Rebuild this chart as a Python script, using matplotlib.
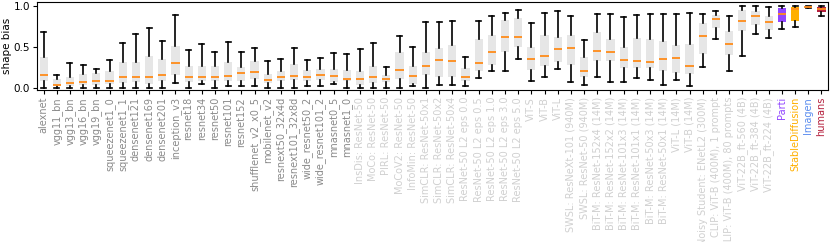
import matplotlib.pyplot as plt
import numpy as np

# model names, left to right
models = ['alexnet', 'vgg11_bn', 'vgg13_bn', 'vgg16_bn', 'vgg19_bn',
          'squeezenet1_0', 'squeezenet1_1', 'densenet121', 'densenet169',
          'densenet201', 'inception_v3', 'resnet18', 'resnet34', 'resnet50',
          'resnet101', 'resnet152', 'shufflenet_v2_x0_5', 'mobilenet_v2',
          'resnext50_32x4d', 'resnext101_32x8d', 'wide_resnet50_2',
          'wide_resnet101_2', 'mnasnet0_5', 'mnasnet1_0',
          'InsDis: ResNet-50', 'MoCo: ResNet-50', 'PIRL: ResNet-50',
          'MoCoV2: ResNet-50', 'InfoMin: ResNet-50', 'SimCLR: ResNet-50x1',
          'SimCLR: ResNet-50x2', 'SimCLR: ResNet-50x4',
          'ResNet-50 L2 eps 0.0', 'ResNet-50 L2 eps 0.5', 'ResNet-50 L2 eps 1.0',
          'ResNet-50 L2 eps 3.0', 'ResNet-50 L2 eps 5.0',
          'ViT-S', 'ViT-B', 'ViT-L',
          'SWSL: ResNeXt-101 (940M)', 'SWSL: ResNet-50 (940M)',
          'BiT-M: ResNet-152x4 (14M)', 'BiT-M: ResNet-152x2 (14M)',
          'BiT-M: ResNet-101x3 (14M)', 'BiT-M: ResNet-101x1 (14M)',
          'BiT-M: ResNet-50x3 (14M)', 'BiT-M: ResNet-50x1 (14M)',
          'ViT-L (14M)', 'ViT-B (14M)', 'Noisy Student: ENetL2 (300M)',
          'CLIP: ViT-B (400M), 1 prompt', 'CLIP: ViT-B (400M), 80 prompts',
          'ViT-22B_ft-560 (4B)', 'ViT-22B_ft-384 (4B)', 'ViT-22B_ft-224 (4B)',
          'Parti', 'StableDiffusion', 'Imagen', 'humans']

# box statistics
whis_lo = [0.0, 0.0, 0.0, 0.0, 0.0, 0.0, 0.0, 0.0, 0.0, 0.0,
           0.051, 0.0, 0.047, 0.0, 0.022, 0.018, 0.02, 0.0, 0.0, 0.0,
           0.022, 0.022, 0.043, 0.0, 0.0, 0.0, 0.0, 0.0, 0.018, 0.0,
           0.03, 0.03, 0.018, 0.112, 0.202, 0.202, 0.345, 0.076, 0.129, 0.23,
           0.071, 0.026, 0.129, 0.063, 0.063, 0.116, 0.096, 0.035, 0.092, 0.022,
           0.247, 0.594, 0.206, 0.386, 0.655, 0.61, 0.72, 0.744, 0.975, 0.875]
q1 = [0.08, 0.018, 0.02, 0.03, 0.035, 0.043, 0.06, 0.067, 0.043, 0.083,
      0.153, 0.067, 0.076, 0.08, 0.083, 0.083, 0.1, 0.05, 0.083, 0.092,
      0.083, 0.092, 0.067, 0.076, 0.03, 0.06, 0.063, 0.1, 0.043, 0.153,
      0.125, 0.133, 0.08, 0.202, 0.275, 0.43, 0.5, 0.214, 0.263, 0.312,
      0.271, 0.125, 0.32, 0.324, 0.243, 0.235, 0.235, 0.198, 0.174, 0.161,
      0.41, 0.724, 0.401, 0.688, 0.769, 0.704, 0.798, 0.81, 0.98, 0.93]
medians = [0.149, 0.034, 0.05, 0.063, 0.083, 0.08, 0.125, 0.133, 0.125, 0.157,
           0.296, 0.133, 0.133, 0.133, 0.141, 0.177, 0.19, 0.096, 0.125, 0.137,
           0.125, 0.153, 0.141, 0.104, 0.108, 0.133, 0.1, 0.214, 0.141, 0.267,
           0.336, 0.324, 0.125, 0.296, 0.435, 0.622, 0.618, 0.349, 0.386, 0.467,
           0.48, 0.206, 0.447, 0.438, 0.332, 0.32, 0.308, 0.353, 0.365, 0.259,
           0.63, 0.842, 0.536, 0.81, 0.875, 0.798, 0.903, 0.961, 0.99, 0.955]
q3 = [0.377, 0.11, 0.13, 0.165, 0.174, 0.198, 0.308, 0.316, 0.39, 0.353,
      0.508, 0.267, 0.263, 0.263, 0.316, 0.247, 0.32, 0.165, 0.206, 0.284,
      0.214, 0.23, 0.222, 0.214, 0.206, 0.263, 0.149, 0.438, 0.263, 0.435,
      0.48, 0.52, 0.239, 0.59, 0.638, 0.826, 0.855, 0.492, 0.646, 0.614,
      0.646, 0.37, 0.68, 0.594, 0.492, 0.61, 0.59, 0.573, 0.516, 0.528,
      0.786, 0.883, 0.69, 0.949, 0.94, 0.875, 0.973, 0.981, 0.995, 0.985]
whis_hi = [0.676, 0.153, 0.30, 0.28, 0.226, 0.336, 0.55, 0.65, 0.73, 0.57,
           0.887, 0.455, 0.536, 0.435, 0.56, 0.43, 0.483, 0.32, 0.353, 0.483,
           0.34, 0.357, 0.426, 0.406, 0.47, 0.54, 0.255, 0.634, 0.5, 0.806,
           0.806, 0.814, 0.377, 0.818, 0.875, 0.916, 0.945, 0.786, 0.908, 0.936,
           0.871, 0.585, 0.9, 0.9, 0.867, 0.887, 0.9, 0.9, 0.9, 0.916,
           0.9, 0.94, 0.879, 1.0, 1.0, 0.981, 1.0, 1.0, 1.0, 1.0]

n_cnn = 24  # first group has darker labels
special_colors = {'Parti': '#9146ff', 'StableDiffusion': '#ffb000',
                  'Imagen': '#5b8def', 'humans': '#b5203d'}

stats = []
for i, name in enumerate(models):
    stats.append({'label': name, 'whislo': whis_lo[i], 'q1': q1[i], 'med': medians[i],
                  'q3': q3[i], 'whishi': whis_hi[i], 'fliers': []})

fig = plt.figure(figsize=(8.3, 2.42), dpi=100)
ax = fig.add_axes([0.0446, 0.628, 0.953, 0.365])

positions = np.arange(1, len(models) + 1)
bp = ax.bxp(stats, positions=positions, widths=0.62, capwidths=0.38, patch_artist=True,
            showfliers=False,
            boxprops=dict(facecolor='#e6e6e6', edgecolor='none'),
            whiskerprops=dict(color='black', lw=1.2),
            capprops=dict(color='black', lw=1.2),
            medianprops=dict(color='#ff8c1a', lw=1.3))

for i, box in enumerate(bp['boxes']):
    if models[i] in special_colors:
        box.set_facecolor(special_colors[models[i]])

ax.set_xlim(0.5, len(models) + 0.5)
ax.set_ylim(-0.03, 1.05)
ax.set_yticks([0.0, 0.5, 1.0])
ax.set_yticklabels(['0.0', '0.5', '1.0'], fontsize=7.5)
ax.set_ylabel('shape bias', fontsize=7.5, labelpad=1)
ax.set_xticks(positions)
ax.set_xticklabels(models, rotation=90, fontsize=7)
ax.tick_params(axis='both', length=3, pad=2)

for i, lab in enumerate(ax.get_xticklabels()):
    name = models[i]
    if name in special_colors:
        lab.set_color(special_colors[name])
    elif i < n_cnn:
        lab.set_color('#8a8a8a')
    else:
        lab.set_color('#d0d0d0')

plt.savefig('out.png', dpi=100)
